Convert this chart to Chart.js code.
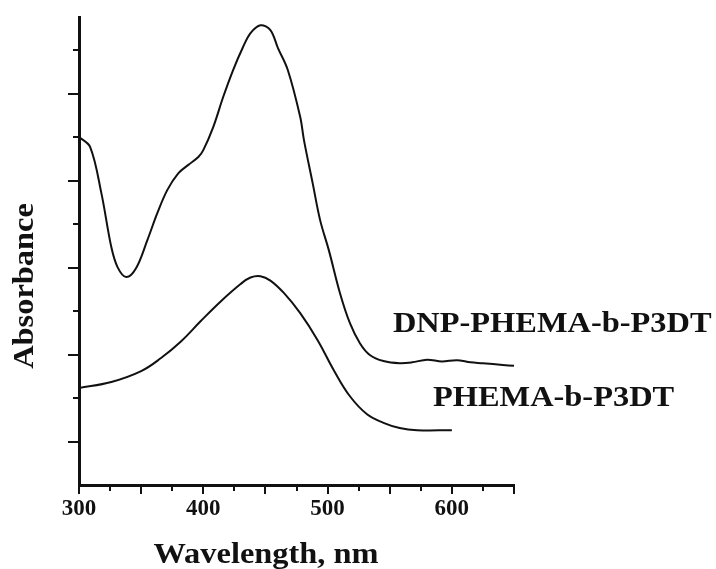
<!DOCTYPE html>
<html>
<head>
<meta charset="utf-8">
<script src="https://cdn.jsdelivr.net/npm/chart.js@4.4.1/dist/chart.umd.min.js"></script>
<style>
  html, body { margin: 0; padding: 0; background: #fff; }
</style>
</head>
<body>
<canvas id="spectra" width="716" height="569"></canvas>
<script>
// DNP-PHEMA-b-P3DT (upper trace)
const dnpWavelength = [300, 309, 318, 326, 331, 338, 346, 355, 363, 371, 380, 388, 396, 400, 408, 416, 424, 432, 438, 446, 454, 460, 468, 478, 481, 488, 494, 501, 510, 518, 526, 534, 545, 558, 568, 580, 592, 604, 615, 625, 641, 650];
const dnpAbsorbance = [8.0, 7.77, 6.71, 5.47, 5.01, 4.78, 4.99, 5.63, 6.25, 6.78, 7.17, 7.36, 7.54, 7.70, 8.23, 8.92, 9.54, 10.07, 10.39, 10.57, 10.46, 10.05, 9.54, 8.46, 7.93, 6.94, 6.09, 5.40, 4.41, 3.72, 3.26, 2.99, 2.85, 2.80, 2.82, 2.88, 2.84, 2.87, 2.82, 2.80, 2.76, 2.74];

// PHEMA-b-P3DT (lower trace)
const phemaWavelength = [300, 326, 350, 366, 382, 398, 414, 430, 438, 446, 454, 465, 478, 492, 505, 518, 532, 545, 558, 572, 600];
const phemaAbsorbance = [2.23, 2.37, 2.62, 2.92, 3.30, 3.77, 4.22, 4.62, 4.77, 4.80, 4.70, 4.41, 3.95, 3.33, 2.64, 2.04, 1.62, 1.43, 1.31, 1.26, 1.26];

const xTickLabels = [300, 400, 500, 600];
const seriesNames = ['DNP-PHEMA-b-P3DT', 'PHEMA-b-P3DT'];

const serif = '"Liberation Serif", "Times New Roman", serif';
const ink = '#111';

const toPoints = (xs, ys) => xs.map((x, i) => ({ x: x, y: ys[i] }));

// bold serif text, a little wider than Liberation Serif
function wideText(ctx, str, px, py, align, angle) {
  ctx.save();
  ctx.translate(px, py);
  if (angle) ctx.rotate(angle);
  ctx.scale(1.08, 1);
  ctx.textAlign = align;
  ctx.fillText(str, 0, 0);
  ctx.restore();
}

// tick marks (long / short) and the text labels
const decorations = {
  id: 'decorations',
  afterDraw(chart) {
    const { ctx, scales: { x, y } } = chart;
    ctx.save();
    ctx.strokeStyle = ink;
    ctx.lineWidth = 2;
    ctx.beginPath();
    for (let v = 300; v <= 650; v += 25) {
      const px = Math.round(x.getPixelForValue(v));
      const len = v % 50 === 0 ? 9 : 6;
      ctx.moveTo(px, y.bottom);
      ctx.lineTo(px, y.bottom + len);
    }
    for (let v = 1; v <= 10; v++) {
      const py = Math.round(y.getPixelForValue(v));
      const len = v % 2 === 1 ? 11 : 6;
      ctx.moveTo(x.left, py);
      ctx.lineTo(x.left - len, py);
    }
    ctx.stroke();

    ctx.fillStyle = ink;
    ctx.font = 'bold 30px ' + serif;
    ctx.textBaseline = 'alphabetic';
    wideText(ctx, 'Absorbance', 33, 286, 'center', -Math.PI / 2);
    wideText(ctx, 'Wavelength, nm', 266, 563, 'center');
    wideText(ctx, seriesNames[0], x.getPixelForValue(552.6), y.getPixelForValue(3.52), 'left');
    wideText(ctx, seriesNames[1], x.getPixelForValue(584.8), y.getPixelForValue(1.82), 'left');
    ctx.restore();
  }
};

new Chart(document.getElementById('spectra'), {
  type: 'line',
  data: {
    datasets: [
      {
        label: seriesNames[0],
        data: toPoints(dnpWavelength, dnpAbsorbance),
        borderColor: ink,
        borderWidth: 2,
        pointRadius: 0,
        tension: 0.35,
      },
      {
        label: seriesNames[1],
        data: toPoints(phemaWavelength, phemaAbsorbance),
        borderColor: ink,
        borderWidth: 2,
        pointRadius: 0,
        tension: 0.4,
      },
    ],
  },
  options: {
    responsive: false,
    animation: false,
    layout: { padding: { top: 17, right: 202, bottom: 0, left: 0 } },
    plugins: { legend: { display: false }, tooltip: { enabled: false } },
    scales: {
      x: {
        type: 'linear',
        min: 300,
        max: 650,
        afterFit: (s) => { s.height = 84; },
        border: { color: ink, width: 3 },
        grid: { drawOnChartArea: false, tickLength: 8, tickColor: 'rgba(0,0,0,0)' },
        ticks: {
          stepSize: 25,
          autoSkip: false,
          maxRotation: 0,
          padding: 2,
          color: ink,
          font: { family: serif, size: 23, weight: 'bold' },
          callback: (v) => (xTickLabels.includes(v) ? String(v) : ''),
        },
      },
      y: {
        min: 0,
        max: 10.76,
        afterFit: (s) => { s.width = 79; },
        border: { color: ink, width: 3 },
        grid: { drawOnChartArea: false, drawTicks: false },
        ticks: { display: false },
      },
    },
  },
  plugins: [decorations],
});
</script>
</body>
</html>
